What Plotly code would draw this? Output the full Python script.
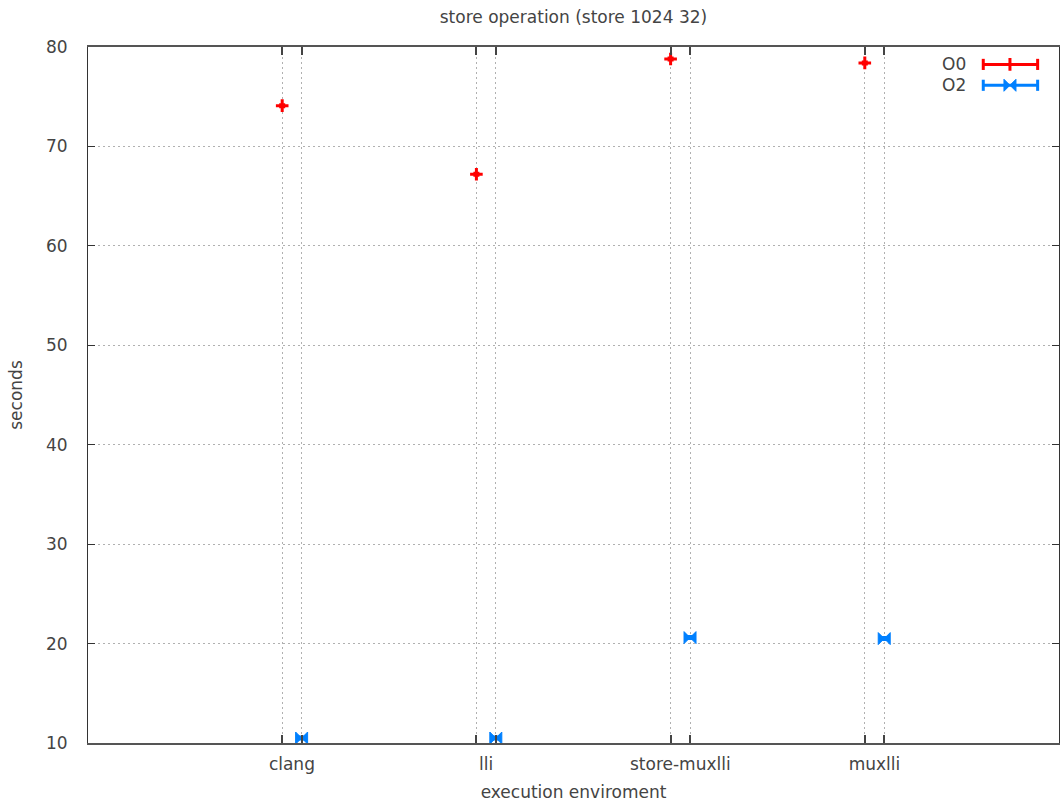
import plotly.graph_objects as go

categories = ["clang", "lli", "store-muxlli", "muxlli"]
o0_values = [74.1, 67.2, 78.8, 78.4]
o2_values = [10.5, 10.5, 20.6, 20.5]
o0_err = [0.15, 0.15, 0.15, 0.15]
o2_err = [0.15, 0.15, 0.15, 0.15]
y_ticks = [10, 20, 30, 40, 50, 60, 70, 80]

idx = list(range(1, len(categories) + 1))
x_o0 = [i for i in idx]
x_o2 = [i + 0.1 for i in idx]
x_lab = [i + 0.05 for i in idx]

RED = "#ff0000"
BLUE = "#0080ff"
FONT = "DejaVu Sans"
TXT = "#444444"
FS = 17

fig = go.Figure()
fig.add_trace(go.Scatter(
    x=x_o0, y=o0_values, mode="markers", name="O0",
    marker=dict(symbol="cross-thin", size=9, line=dict(color=RED, width=3), color=RED),
    error_y=dict(type="data", array=o0_err, color=RED, thickness=2, width=3),
    showlegend=False,
))
fig.add_trace(go.Scatter(
    x=x_o2, y=o2_values, mode="markers", name="O2",
    marker=dict(symbol="bowtie", size=12, color=BLUE, line=dict(color=BLUE, width=1)),
    error_y=dict(type="data", array=o2_err, color=BLUE, thickness=2, width=4),
    showlegend=False,
))
fig.add_trace(go.Scatter(x=x_lab, y=[None] * len(x_lab), xaxis="x2", showlegend=False, hoverinfo="skip"))

grid = dict(showgrid=True, gridcolor="#b0b0b0", griddash="2px,3px", gridwidth=1)
fig.update_layout(
    width=1060, height=803,
    paper_bgcolor="white", plot_bgcolor="rgba(0,0,0,0)",
    margin=dict(l=88, r=1, t=47, b=60, autoexpand=False),
    font=dict(family=FONT, size=FS, color=TXT),
    title=dict(text="store operation (store 1024 32)", x=0.541, xanchor="center", y=0.979,
               yanchor="middle", font=dict(size=FS, color=TXT)),
    xaxis=dict(range=[0, 5], tickvals=x_o0 + x_o2, showticklabels=False, automargin=False,
               ticks="inside", ticklen=8, tickcolor="#444", tickwidth=2,
               showline=True, linecolor="#555", linewidth=2, mirror="ticks",
               zeroline=False, **grid),
    xaxis2=dict(range=[0, 5], overlaying="x", side="bottom", tickvals=x_lab, automargin=False,
                ticktext=categories, ticks="", showgrid=False, zeroline=False, ticklabelstandoff=9,
                showline=False, tickfont=dict(size=FS, color=TXT),
                title=dict(text="execution enviroment", font=dict(size=FS, color=TXT), standoff=13)),
    yaxis=dict(range=[10, 80], tickvals=y_ticks, ticks="inside", ticklen=7, tickcolor="#333",
               showline=True, linecolor="#333", ticklabelstandoff=16,
               linewidth=1, mirror="ticks", zeroline=False, automargin=False,
               title=dict(text="seconds", font=dict(size=FS, color=TXT), standoff=19),
               **grid),
    showlegend=False,
)

key = [("O0", RED, "cross-thin", 0.975), ("O2", BLUE, "bowtie", 0.945)]
for name, col, sym, yy in key:
    fig.add_annotation(xref="paper", yref="paper", x=0.906, y=yy, text=name, showarrow=False,
                       xanchor="right", yanchor="middle", font=dict(size=FS, color=TXT))
    fig.add_shape(type="line", xref="paper", yref="paper", x0=0.922, x1=0.978, y0=yy, y1=yy,
                  line=dict(color=col, width=3))
    for xe in (0.922, 0.978):
        fig.add_shape(type="line", xref="paper", yref="paper", x0=xe, x1=xe, y0=yy - 0.008, y1=yy + 0.008,
                      line=dict(color=col, width=3))
    fig.add_trace(go.Scatter(x=[0.9495], y=[yy], xaxis="x3", yaxis="y3", mode="markers",
                             marker=dict(symbol=sym, size=9 if sym == "cross-thin" else 12, color=col,
                                         line=dict(color=col, width=3 if sym == "cross-thin" else 1)),
                             showlegend=False, hoverinfo="skip"))
fig.update_layout(
    xaxis3=dict(domain=[0, 1], range=[0, 1], visible=False, anchor="y3", automargin=False),
    yaxis3=dict(domain=[0, 1], range=[0, 1], visible=False, anchor="x3", automargin=False),
)

fig.write_html("out.html", config={"displayModeBar": False},
               post_script="document.body.style.margin='0px';document.body.style.padding='0px';")
